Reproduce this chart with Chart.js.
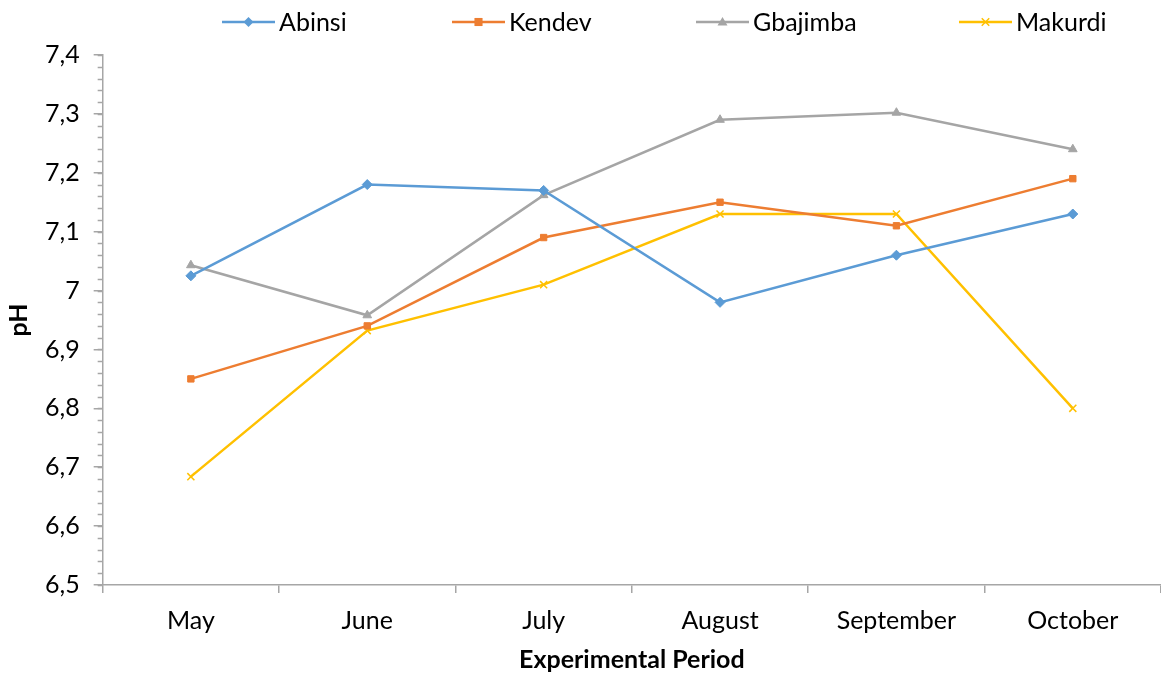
<!DOCTYPE html>
<html>
<head>
<meta charset="utf-8">
<script src="https://cdn.jsdelivr.net/npm/chart.js@4.4.1/dist/chart.umd.min.js"></script>
<style>
  html, body { margin: 0; padding: 0; background: #ffffff; }
  #wrap { width: 1161px; height: 675px; }
</style>
</head>
<body>
<div id="wrap"><canvas id="c" width="1161" height="675"></canvas></div>
<script>
// Monthly pH readings at four sampling stations
const months   = ['May', 'June', 'July', 'August', 'September', 'October'];
const abinsi   = [7.025, 7.18, 7.17, 6.98, 7.06, 7.13];
const kendev   = [6.85, 6.94, 7.09, 7.15, 7.11, 7.19];
const gbajimba = [7.043, 6.958, 7.162, 7.29, 7.302, 7.24];
const makurdi  = [6.684, 6.932, 7.01, 7.13, 7.13, 6.80];
const yTickValues  = [6.5, 6.6, 6.7, 6.8, 6.9, 7.0, 7.1, 7.2, 7.3, 7.4];
const yMinorStep   = 0.02;

const FONT = 'Lato, "Open Sans", "Liberation Sans", sans-serif';
const FONT_SIZE = 25;
const AXIS_GREY = '#a6a6a6';

const series = [
  { label: 'Abinsi',   data: abinsi,   color: '#5b9bd5', style: 'rectRot',  radius: 5 },
  { label: 'Kendev',   data: kendev,   color: '#ed7d31', style: 'rect',     radius: 4.5 },
  { label: 'Gbajimba', data: gbajimba, color: '#a5a5a5', style: 'triangle', radius: 5 },
  { label: 'Makurdi',  data: makurdi,  color: '#ffc000', style: 'crossRot', radius: 5 }
];

// small marker painter shared by the legend
function paintMarker(ctx, style, x, y, r, color) {
  ctx.save();
  ctx.fillStyle = color;
  ctx.strokeStyle = color;
  ctx.lineWidth = 1.5;
  ctx.beginPath();
  if (style === 'rectRot') {
    ctx.moveTo(x, y - r); ctx.lineTo(x + r, y); ctx.lineTo(x, y + r); ctx.lineTo(x - r, y);
    ctx.closePath(); ctx.fill();
  } else if (style === 'rect') {
    const s = r * 0.9;
    ctx.rect(x - s, y - s, 2 * s, 2 * s); ctx.fill();
  } else if (style === 'triangle') {
    ctx.moveTo(x, y - r); ctx.lineTo(x + r, y + r * 0.7); ctx.lineTo(x - r, y + r * 0.7);
    ctx.closePath(); ctx.fill();
  } else if (style === 'crossRot') {
    const s = r * 0.75;
    ctx.moveTo(x - s, y - s); ctx.lineTo(x + s, y + s);
    ctx.moveTo(x + s, y - s); ctx.lineTo(x - s, y + s);
    ctx.stroke();
  }
  ctx.restore();
}

// legend row across the top: line sample with marker, then the name
const topLegend = {
  id: 'topLegend',
  afterDraw(chart) {
    const ctx = chart.ctx;
    const y = 22;
    const lineLen = 53;
    const starts = [222, 452, 696, 959];
    ctx.save();
    ctx.font = FONT_SIZE + 'px ' + FONT;
    ctx.textBaseline = 'middle';
    ctx.textAlign = 'left';
    series.forEach((s, i) => {
      const x0 = starts[i];
      ctx.strokeStyle = s.color;
      ctx.lineWidth = 2.5;
      ctx.beginPath();
      ctx.moveTo(x0, y); ctx.lineTo(x0 + lineLen, y);
      ctx.stroke();
      paintMarker(ctx, s.style, x0 + lineLen / 2, y, s.radius, s.color);
      ctx.fillStyle = '#000000';
      ctx.fillText(s.label, x0 + lineLen + 4, y + 1);
    });
    ctx.restore();
  }
};

// short minor tick marks on the left of the value axis
const minorTicks = {
  id: 'minorTicks',
  afterDraw(chart) {
    const y = chart.scales.y;
    const ctx = chart.ctx;
    const x = y.right;
    ctx.save();
    ctx.strokeStyle = AXIS_GREY;
    ctx.lineWidth = 1.5;
    ctx.beginPath();
    const n = Math.round((y.max - y.min) / yMinorStep);
    for (let i = 0; i <= n; i++) {
      const py = Math.round(y.getPixelForValue(y.min + i * yMinorStep)) + 0.5;
      ctx.moveTo(x - 5, py);
      ctx.lineTo(x, py);
    }
    ctx.stroke();
    ctx.restore();
  }
};

const fmt = v => {
  const n = Math.round(v * 10) / 10;
  return String(n).replace('.', ',');
};

new Chart(document.getElementById('c'), {
  type: 'line',
  data: {
    labels: months,
    datasets: series.map(s => ({
      label: s.label,
      data: s.data,
      borderColor: s.color,
      backgroundColor: s.color,
      borderWidth: 2.5,
      pointStyle: s.style,
      pointRadius: s.radius,
      pointHoverRadius: s.radius,
      pointBorderWidth: s.style === 'crossRot' ? 1.5 : 1,
      pointBackgroundColor: s.color,
      pointBorderColor: s.color,
      tension: 0,
      fill: false,
      clip: false
    }))
  },
  options: {
    responsive: false,
    animation: false,
    layout: { autoPadding: false, padding: { top: 55, right: 0, bottom: 0, left: 4 } },
    plugins: {
      legend: { display: false },
      tooltip: { enabled: false }
    },
    scales: {
      x: {
        type: 'category',
        offset: true,
        border: { display: true, color: AXIS_GREY, width: 1.5 },
        grid: { display: true, offset: true, drawOnChartArea: false, drawTicks: true, tickLength: 8, color: AXIS_GREY, lineWidth: 1.5 },
        ticks: { color: '#000000', font: { family: FONT, size: FONT_SIZE }, padding: 13, maxRotation: 0 },
        title: { display: true, text: 'Experimental Period', color: '#000000', font: { family: FONT, size: FONT_SIZE, weight: 'bold' }, padding: { top: -4, bottom: 0 } }
      },
      y: {
        min: 6.5,
        max: 7.4,
        afterBuildTicks: axis => { axis.ticks = yTickValues.map(v => ({ value: v })); },
        border: { display: true, color: AXIS_GREY, width: 1.5 },
        grid: { display: true, drawOnChartArea: false, drawTicks: true, tickLength: 9, color: AXIS_GREY, lineWidth: 1.5 },
        ticks: { color: '#000000', font: { family: FONT, size: FONT_SIZE }, padding: 14, callback: v => fmt(v) },
        title: { display: true, text: 'pH', color: '#000000', font: { family: FONT, size: FONT_SIZE, weight: 'bold' }, padding: { top: 0, bottom: -3 } }
      }
    }
  },
  plugins: [topLegend, minorTicks]
});
</script>
</body>
</html>
